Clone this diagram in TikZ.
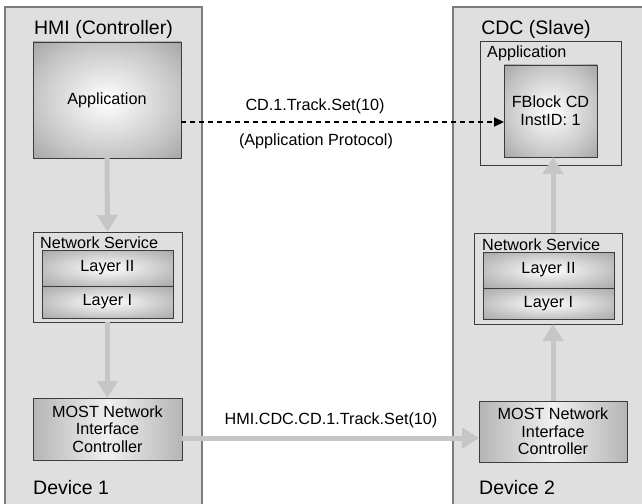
\documentclass[tikz,border=0pt]{standalone}
\usepackage{fontspec}
\setmainfont{Liberation Sans}
\usetikzlibrary{arrows.meta}

\definecolor{devfill}{HTML}{DFDFDF}
\definecolor{devline}{HTML}{7C7C7C}
\definecolor{boxline}{HTML}{3C3C3C}
\definecolor{flowgray}{HTML}{C6C6C6}
\definecolor{glowmid}{HTML}{C4C4C4}
\definecolor{glowcorner}{HTML}{A4A4A4}
\definecolor{layermid}{HTML}{C0C0C0}
\definecolor{layercorner}{HTML}{A8A8A8}

% soft radial glow: white centre, grey towards the border
\pgfdeclareradialshading{appglow}{\pgfpoint{0bp}{0bp}}{%
  color(0bp)=(white); color(25bp)=(glowmid); color(36bp)=(glowcorner); color(50bp)=(glowcorner)}
\pgfdeclareradialshading{layerglow}{\pgfpoint{0bp}{0bp}}{%
  color(0bp)=(white); color(25bp)=(layermid); color(36bp)=(layercorner); color(50bp)=(layercorner)}

\tikzset{
  bigtext/.style={font=\fontsize{19.5}{22}\selectfont, inner sep=0pt},
  smalltext/.style={font=\fontsize{16.2}{18}\selectfont, inner sep=0pt},
  device/.style={draw=devline, line width=1.5pt, fill=devfill, anchor=north west,
    inner sep=0pt, outer sep=0pt},
  frame/.style={draw=boxline, line width=0.9pt, fill=devfill, anchor=north west,
    inner sep=0pt, outer sep=0pt},
  appbox/.style={draw=boxline, line width=0.9pt, shading=appglow, anchor=north west,
    inner sep=0pt, outer sep=0pt, smalltext, align=center},
  layerbox/.style={draw=boxline, line width=0.9pt, shading=layerglow, anchor=north west,
    inner sep=0pt, outer sep=0pt, smalltext},
  nicbox/.style={draw=boxline, line width=0.9pt, left color=gray!58, right color=gray!58,
    middle color=gray!12, anchor=north west, inner sep=0pt, outer sep=0pt,
    smalltext, align=center},
  flow/.style={draw=flowgray, line width=5pt,
    -{Triangle[width=20pt,length=17pt]}, shorten >=0pt},
  protocol/.style={draw=black, line width=2.2pt, dash pattern=on 5pt off 4pt,
    -{Triangle[width=9pt,length=10pt]}},
}

\begin{document}
\begin{tikzpicture}[x=1pt, y=-1pt]
  \useasboundingbox (0,0) rectangle (642,503);
  \clip (0,0) rectangle (642,503);

  % the two devices
  \node[device, minimum width=197pt, minimum height=510pt] (dev1) at (5,7) {};
  \node[device, minimum width=200pt, minimum height=510pt] (dev2) at (453,7) {};
  \node[bigtext] (dev1title) at (103.5,29) {HMI (Controller)};
  \node[bigtext] (dev2title) at (536,29) {CDC (Slave)};
  \node[bigtext, anchor=west] (dev1name) at (33,488) {Device 1};
  \node[bigtext, anchor=west] (dev2name) at (479,488) {Device 2};

  % controller stack
  \node[appbox, minimum width=148pt, minimum height=116pt] (lapp) at (33,42) {Application};
  \node[frame, minimum width=149pt, minimum height=90pt] (lns) at (33,232) {};
  \node[smalltext, anchor=west] (lnslabel) at (40,242.5) {Network Service};
  \node[layerbox, minimum width=131pt, minimum height=36pt] (ll2) at (42,250) {Layer II};
  \node[layerbox, minimum width=131pt, minimum height=32pt] (ll1) at (42,286) {Layer I};
  \node[nicbox, minimum width=149pt, minimum height=62pt] (lnic) at (33,398)
    {MOST Network\\[-0.5pt]Interface\\[-0.5pt]Controller};

  % slave stack
  \node[frame, minimum width=141pt, minimum height=124pt] (rapp) at (480,41) {};
  \node[smalltext, anchor=west] (rapplabel) at (487,53) {Application};
  \node[appbox, minimum width=93pt, minimum height=92pt] (fb) at (504,65)
    {FBlock CD\\InstID: 1};
  \node[frame, minimum width=148pt, minimum height=91pt] (rns) at (474,233) {};
  \node[smalltext, anchor=west] (rnslabel) at (482,245) {Network Service};
  \node[layerbox, minimum width=131pt, minimum height=36pt] (rl2) at (483,252) {Layer II};
  \node[layerbox, minimum width=131pt, minimum height=31pt] (rl1) at (483,288) {Layer I};
  \node[nicbox, minimum width=148pt, minimum height=61pt] (rnic) at (479,401)
    {MOST Network\\[-0.5pt]Interface\\[-0.5pt]Controller};

  % data flow through the layers
  \draw[flow] (lapp.south) -- (lns.north);
  \draw[flow] (lns.south) -- (lnic.north);
  \draw[flow] ([yshift=-9pt]lnic.east) -- ([yshift=-9pt]lnic.east -| rnic.west);
  \draw[flow] (rnic.north) -- (rnic.north |- rns.south);
  \draw[flow] (rns.north -| rnic.north) -- (fb.south -| rnic.north);

  % logical application protocol
  \draw[protocol] ([yshift=-22pt]lapp.east) -- ([yshift=-22pt]lapp.east -| fb.west);

  \node[smalltext] (cmd) at (315,106) {CD.1.Track.Set(10)};
  \node[smalltext] (proto) at (316,141) {(Application Protocol)};
  \node[smalltext] (netcmd) at (331,420) {HMI.CDC.CD.1.Track.Set(10)};
\end{tikzpicture}
\end{document}
